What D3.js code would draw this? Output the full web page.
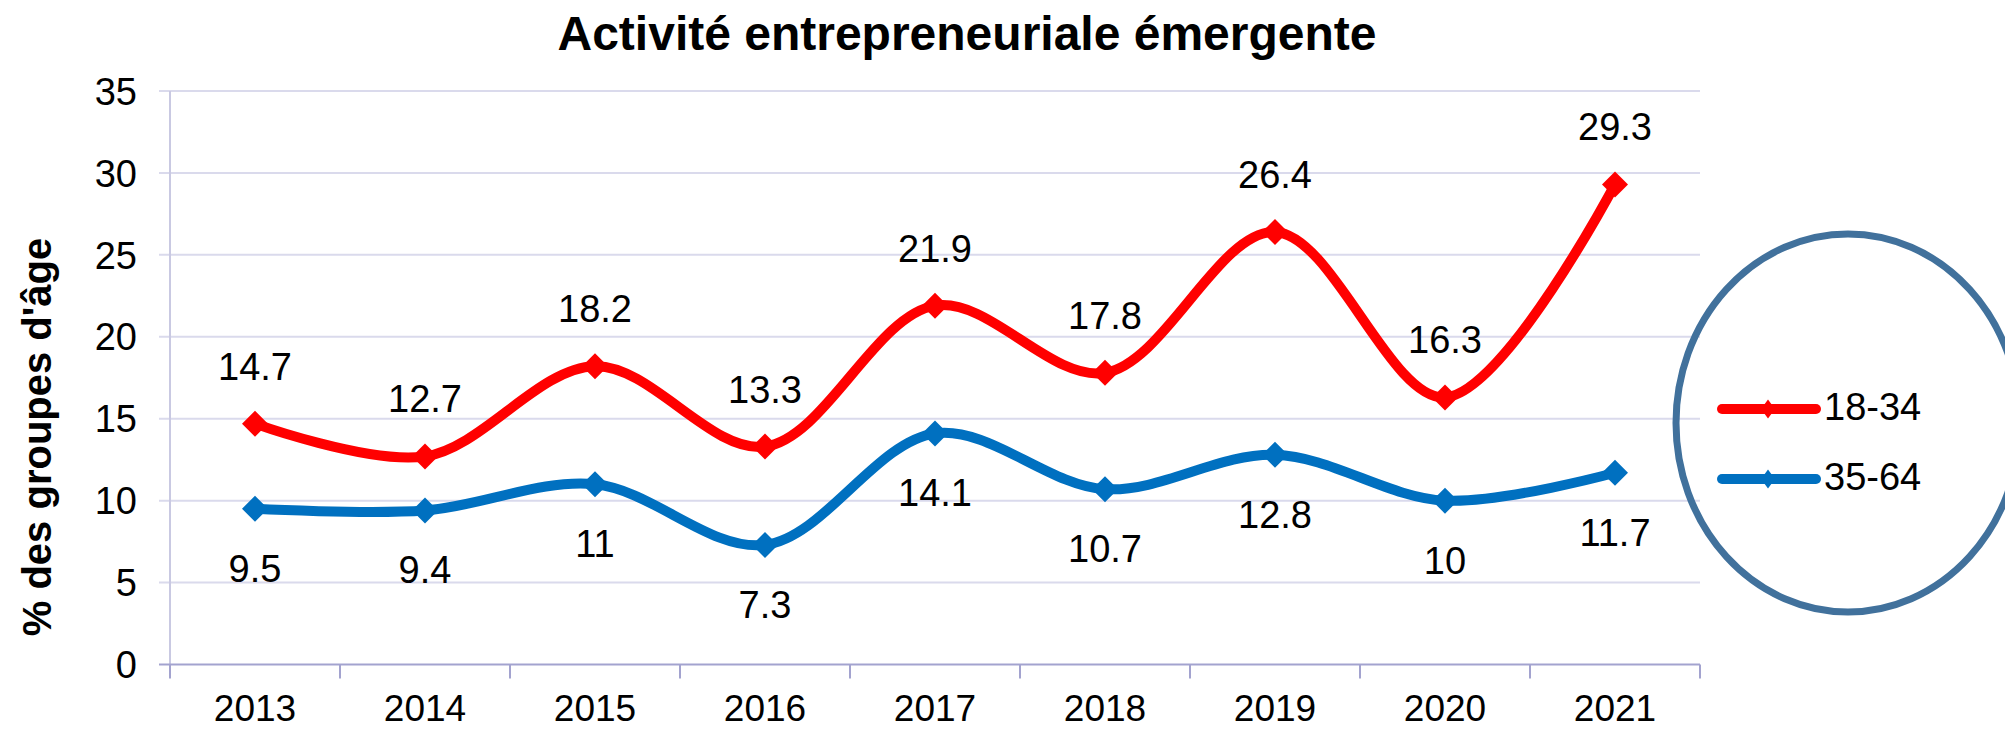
<!DOCTYPE html>
<html>
<head>
<meta charset="utf-8">
<script src="https://cdn.jsdelivr.net/npm/d3@7"></script>
<style>
  body { margin: 0; background: #fff; }
  text { font-family: "Liberation Sans", Arial, sans-serif; fill: #000; }
</style>
</head>
<body>
<script>
var width = 2005,
    height = 729;

// data
var years = ["2013", "2014", "2015", "2016", "2017", "2018", "2019", "2020", "2021"];
var young = [14.7, 12.7, 18.2, 13.3, 21.9, 17.8, 26.4, 16.3, 29.3];   // 18-34
var older = [9.5, 9.4, 11, 7.3, 14.1, 10.7, 12.8, 10, 11.7];          // 35-64
var yTicks = [0, 5, 10, 15, 20, 25, 30, 35];
var seriesNames = ["18-34", "35-64"];
var seriesColors = ["#ff0000", "#0070c0"];

var svg = d3.select("body").append("svg")
    .attr("width", width)
    .attr("height", height);

var x = d3.scaleBand()
    .domain(years)
    .range([170, 1700]);
var y = d3.scaleLinear()
    .domain([0, 35])
    .range([664.5, 91]);

function cx(d) { return x(d) + x.bandwidth() / 2; }

// diamond marker for d3.symbol
function diamond(aspect) {
    return {
        draw: function (ctx, size) {
            var r = Math.sqrt(size / 2);
            ctx.moveTo(0, -r * aspect);
            ctx.lineTo(r, 0);
            ctx.lineTo(0, r * aspect);
            ctx.lineTo(-r, 0);
            ctx.closePath();
        }
    };
}

// title
svg.append("text")
    .attr("x", 967)
    .attr("y", 50)
    .attr("text-anchor", "middle")
    .style("font-size", "48px")
    .style("font-weight", "700")
    .text("Activité entrepreneuriale émergente");

// gridlines + y labels
svg.append("g").selectAll("line")
    .data(yTicks.slice(1))
    .join("line")
    .attr("x1", 159)
    .attr("x2", x.range()[1])
    .attr("y1", function (d) { return y(d); })
    .attr("y2", function (d) { return y(d); })
    .attr("stroke", "#dadaec")
    .attr("stroke-width", 2);

svg.append("g").selectAll("text")
    .data(yTicks)
    .join("text")
    .attr("x", 137)
    .attr("y", function (d) { return y(d); })
    .attr("dy", "0.36em")
    .attr("text-anchor", "end")
    .style("font-size", "38px")
    .text(function (d) { return d; });

// axes
svg.append("line")
    .attr("x1", x.range()[0]).attr("x2", x.range()[0])
    .attr("y1", y(35)).attr("y2", y(0))
    .attr("stroke", "#c9c9e2")
    .attr("stroke-width", 2);
svg.append("line")
    .attr("x1", 159).attr("x2", x.range()[1])
    .attr("y1", y(0)).attr("y2", y(0))
    .attr("stroke", "#a3a3cf")
    .attr("stroke-width", 2);

var bounds = years.map(function (d) { return x(d); }).concat([x.range()[1]]);
svg.append("g").selectAll("line")
    .data(bounds)
    .join("line")
    .attr("x1", function (d) { return d; })
    .attr("x2", function (d) { return d; })
    .attr("y1", y(0))
    .attr("y2", y(0) + 14)
    .attr("stroke", "#a3a3cf")
    .attr("stroke-width", 2);

svg.append("g").selectAll("text")
    .data(years)
    .join("text")
    .attr("x", cx)
    .attr("y", 721)
    .attr("text-anchor", "middle")
    .style("font-size", "37px")
    .text(function (d) { return d; });

// y axis title
svg.append("text")
    .attr("transform", "translate(51," + 437 + ") rotate(-90)")
    .attr("text-anchor", "middle")
    .style("font-size", "40px")
    .style("font-weight", "700")
    .text("% des groupes d'âge");

// series
var line = d3.line()
    .x(function (d, i) { return cx(years[i]); })
    .y(function (d) { return y(d); })
    .curve(d3.curveCatmullRom.alpha(0.5));

var marker = d3.symbol().type(diamond(1)).size(2 * 13 * 13);

[older, young].forEach(function (vals) {
    var k = vals === young ? 0 : 1;
    var g = svg.append("g");
    g.append("path")
        .attr("d", line(vals))
        .attr("fill", "none")
        .attr("stroke", seriesColors[k])
        .attr("stroke-width", 10)
        .attr("stroke-linejoin", "round")
        .attr("stroke-linecap", "round");
    g.selectAll("path.mk")
        .data(vals)
        .join("path")
        .attr("class", "mk")
        .attr("d", marker)
        .attr("fill", seriesColors[k])
        .attr("transform", function (d, i) {
            return "translate(" + cx(years[i]) + "," + y(d) + ")";
        });
    g.selectAll("text")
        .data(vals)
        .join("text")
        .attr("x", function (d, i) { return cx(years[i]); })
        .attr("y", function (d) { return k === 0 ? y(d) - 44 : y(d) + 73; })
        .attr("text-anchor", "middle")
        .style("font-size", "38px")
        .text(function (d) { return d; });
});

// legend inside the hand-drawn ellipse
svg.append("ellipse")
    .attr("cx", 1848)
    .attr("cy", 423)
    .attr("rx", 172)
    .attr("ry", 189)
    .attr("fill", "none")
    .attr("stroke", "#41719c")
    .attr("stroke-width", 7);

var legendY = [409, 479];
var legendMarker = d3.symbol().type(diamond(1.35)).size(2 * 7 * 7);
seriesNames.forEach(function (name, i) {
    svg.append("line")
        .attr("x1", 1722).attr("x2", 1816)
        .attr("y1", legendY[i]).attr("y2", legendY[i])
        .attr("stroke", seriesColors[i])
        .attr("stroke-width", 10)
        .attr("stroke-linecap", "round");
    svg.append("path")
        .attr("d", legendMarker)
        .attr("fill", seriesColors[i])
        .attr("transform", "translate(1768," + legendY[i] + ")");
    svg.append("text")
        .attr("x", 1824)
        .attr("y", legendY[i] + 11)
        .style("font-size", "38px")
        .text(name);
});
</script>
</body>
</html>
